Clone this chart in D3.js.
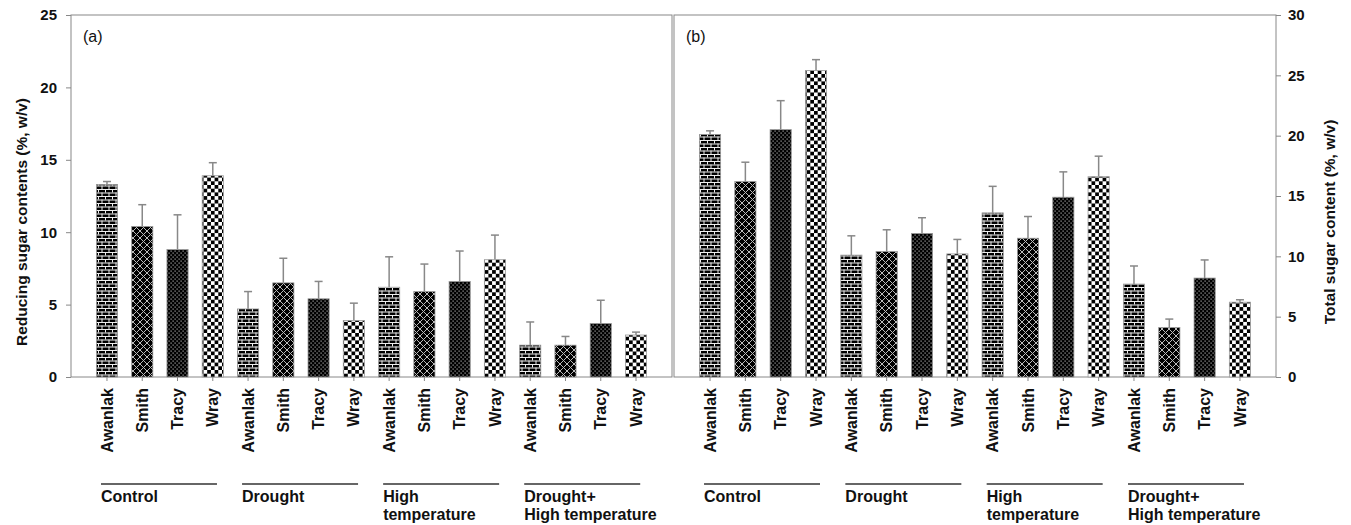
<!DOCTYPE html>
<meta charset="utf-8">
<style>
    body { margin: 0; background: #fff; }
    svg { display: block; font-family: Arial, "Liberation Sans", sans-serif; }
    .axis path, .axis line { stroke: #888; }
    .axis text { font-size: 15px; font-weight: bold; fill: #111; }
    .xlab { font-size: 16px; font-weight: bold; fill: #111; }
    .grp { font-size: 16px; font-weight: bold; fill: #111; }
    .ytitle { font-size: 15.5px; font-weight: bold; fill: #111; }
</style>
<body>
<script src="https://d3js.org/d3.v7.min.js"></script>
<script>
    // data
    var cultivars = ["Awanlak", "Smith", "Tracy", "Wray"];
    var treatments = [["Control"], ["Drought"], ["High", "temperature"], ["Drought+", "High temperature"]];

    // (a) reducing sugar, % w/v  (order: treatment x cultivar)
    var reducing = [13.3, 10.4, 8.8, 13.9,  4.7, 6.5, 5.4, 3.9,  6.2, 5.9, 6.6, 8.1,  2.2, 2.2, 3.7, 2.9];
    var reducingErr = [0.2, 1.5, 2.4, 0.9,  1.2, 1.7, 1.2, 1.2,  2.1, 1.9, 2.1, 1.7,  1.6, 0.6, 1.6, 0.2];

    // (b) total sugar, % w/v
    var total = [20.1, 16.2, 20.5, 25.4,  10.1, 10.4, 11.9, 10.2,  13.6, 11.5, 14.9, 16.6,  7.7, 4.1, 8.2, 6.2];
    var totalErr = [0.3, 1.6, 2.4, 0.9,  1.6, 1.8, 1.3, 1.2,  2.2, 1.8, 2.1, 1.7,  1.5, 0.7, 1.5, 0.2];

    var width = 1351, height = 525;
    var top_ = 15, bottom = 377;

    var svg = d3.select("body").append("svg")
        .attr("width", width)
        .attr("height", height);

    // fill patterns, one per cultivar
    var defs = svg.append("defs");

    var brick = defs.append("pattern").attr("id", "p0")
        .attr("patternUnits", "userSpaceOnUse").attr("width", 7).attr("height", 7);
    brick.append("rect").attr("width", 7).attr("height", 7).attr("fill", "#000");
    brick.append("path")
        .attr("d", "M0,0.5H7M0,4H7M0.5,0V3.5M4,3.5V7")
        .attr("stroke", "#eee").attr("stroke-width", 1).attr("fill", "none");

    var diamond = defs.append("pattern").attr("id", "p1")
        .attr("patternUnits", "userSpaceOnUse").attr("width", 7).attr("height", 7);
    diamond.append("rect").attr("width", 7).attr("height", 7).attr("fill", "#000");
    diamond.append("path")
        .attr("d", "M0,0L7,7M7,0L0,7")
        .attr("stroke", "#bbb").attr("stroke-width", 1).attr("fill", "none");

    var dots = defs.append("pattern").attr("id", "p2")
        .attr("patternUnits", "userSpaceOnUse").attr("width", 4).attr("height", 4);
    dots.append("rect").attr("width", 4).attr("height", 4).attr("fill", "#000");
    dots.append("rect").attr("x", 0.5).attr("y", 0.5).attr("width", 1.2).attr("height", 1.2).attr("fill", "#aaa");
    dots.append("rect").attr("x", 2.5).attr("y", 2.5).attr("width", 1.2).attr("height", 1.2).attr("fill", "#aaa");

    var check = defs.append("pattern").attr("id", "p3")
        .attr("patternUnits", "userSpaceOnUse").attr("width", 7.4).attr("height", 7.4);
    check.append("rect").attr("width", 7.4).attr("height", 7.4).attr("fill", "#fff");
    check.append("rect").attr("width", 3.7).attr("height", 3.7).attr("fill", "#000");
    check.append("rect").attr("x", 3.7).attr("y", 3.7).attr("width", 3.7).attr("height", 3.7).attr("fill", "#000");

    var cats = [];
    treatments.forEach(function(t, ti) {
        cultivars.forEach(function(c, ci) { cats.push({ t: ti, c: ci, key: ti + "-" + c }); });
    });

    function drawPanel(x0, x1, vals, errs, yMax, side, tag, title) {
        var x = d3.scaleBand()
            .domain(cats.map(function(d) { return d.key; }))
            .range([x0, x1])
            .paddingInner(0.4)
            .paddingOuter(0.72);
        var y = d3.scaleLinear().domain([0, yMax]).range([bottom, top_]);

        var g = svg.append("g");

        // frame
        g.append("rect")
            .attr("x", x0).attr("y", top_)
            .attr("width", x1 - x0).attr("height", bottom - top_)
            .attr("fill", "none").attr("stroke", "#888");

        var data = cats.map(function(d, i) { return { key: d.key, c: d.c, t: d.t, v: vals[i], e: errs[i] }; });

        // error bars (upper only)
        var eb = g.selectAll(".err").data(data).enter().append("g").attr("class", "err");
        eb.append("line")
            .attr("x1", function(d) { return x(d.key) + x.bandwidth() / 2; })
            .attr("x2", function(d) { return x(d.key) + x.bandwidth() / 2; })
            .attr("y1", function(d) { return y(d.v); })
            .attr("y2", function(d) { return y(d.v + d.e); })
            .attr("stroke", "#888").attr("stroke-width", 1.5);
        eb.append("line")
            .attr("x1", function(d) { return x(d.key) + x.bandwidth() / 2 - 4; })
            .attr("x2", function(d) { return x(d.key) + x.bandwidth() / 2 + 4; })
            .attr("y1", function(d) { return y(d.v + d.e); })
            .attr("y2", function(d) { return y(d.v + d.e); })
            .attr("stroke", "#888").attr("stroke-width", 1.5);

        g.selectAll(".bar").data(data).enter().append("rect")
            .attr("class", "bar")
            .attr("x", function(d) { return x(d.key); })
            .attr("y", function(d) { return y(d.v); })
            .attr("width", x.bandwidth())
            .attr("height", function(d) { return bottom - y(d.v); })
            .attr("fill", function(d) { return "url(#p" + d.c + ")"; })
            .attr("stroke", "#999").attr("stroke-width", 0.8);

        // y axis
        var yAxis = side === "left" ? d3.axisLeft(y) : d3.axisRight(y);
        yAxis.tickValues(d3.range(0, yMax + 1, 5)).tickSize(5).tickPadding(side === "left" ? 9 : 7);
        g.append("g").attr("class", "axis")
            .attr("transform", "translate(" + (side === "left" ? x0 : x1) + ",0)")
            .call(yAxis)
            .call(function(s) { s.select(".domain").remove(); });

        // x axis ticks + cultivar labels
        var xAxis = d3.axisBottom(x).tickSize(4).tickFormat("");
        g.append("g").attr("class", "axis")
            .attr("transform", "translate(0," + bottom + ")")
            .call(xAxis)
            .call(function(s) { s.select(".domain").remove(); });

        g.selectAll(".xlab").data(data).enter().append("text")
            .attr("class", "xlab")
            .attr("transform", function(d) {
                return "translate(" + (x(d.key) + x.bandwidth() / 2) + "," + (bottom + 11) + ") rotate(-90)";
            })
            .attr("dy", "0.35em")
            .attr("text-anchor", "end")
            .text(function(d) { return cultivars[d.c]; });

        // treatment groups
        treatments.forEach(function(t, ti) {
            var gx = x(ti + "-" + cultivars[0]) + x.bandwidth() / 2 - 6;
            g.append("line")
                .attr("x1", gx).attr("x2", gx + 116)
                .attr("y1", 484).attr("y2", 484)
                .attr("stroke", "#333").attr("stroke-width", 1.3);
            var txt = g.append("text").attr("class", "grp").attr("x", gx).attr("y", 502);
            t.forEach(function(line, li) {
                txt.append("tspan").attr("x", gx).attr("dy", li === 0 ? 0 : 18).text(line);
            });
        });

        g.append("text")
            .attr("x", x0 + 12).attr("y", 42)
            .attr("font-size", 16).attr("fill", "#111")
            .text(tag);

        var tx = side === "left" ? 22 : 1330;
        g.append("text")
            .attr("class", "ytitle")
            .attr("transform", "translate(" + tx + ",222) rotate(-90)")
            .attr("dy", "0.35em")
            .attr("text-anchor", "middle")
            .text(title);
    }

    drawPanel(71, 672, reducing, reducingErr, 25, "left", "(a)", "Reducing sugar contents (%, w/v)");
    drawPanel(674, 1276, total, totalErr, 30, "right", "(b)", "Total sugar content (%, w/v)");
</script>
</body>
</html>
